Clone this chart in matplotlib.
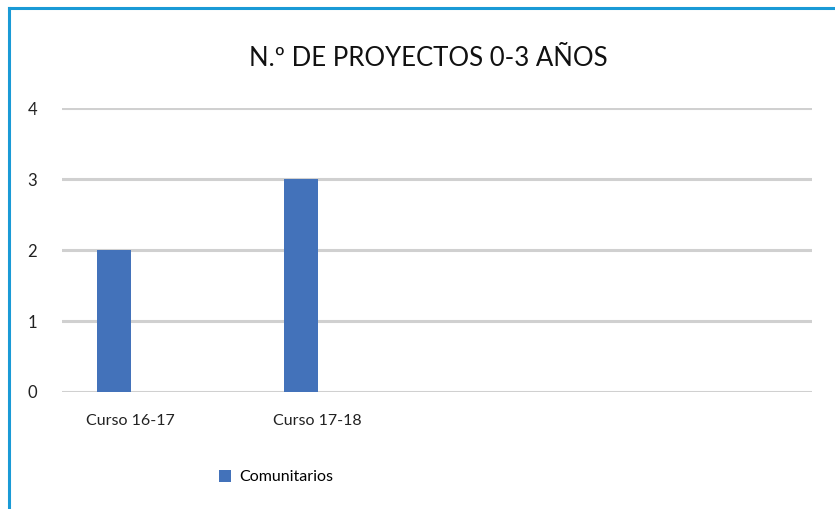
import matplotlib.pyplot as plt
import numpy as np
from matplotlib.lines import Line2D

# Data
categories = ['Curso 16-17', 'Curso 17-18']
comunitarios = [2, 3]
series_name = 'Comunitarios'
title = 'N.º DE PROYECTOS 0-3 AÑOS'
y_ticks = [0, 1, 2, 3, 4]

plt.rcParams['font.family'] = ['Lato', 'DejaVu Sans']

W, H = 835, 509
fig = plt.figure(figsize=(W / 100, H / 100), dpi=100)
ax = fig.add_axes([62 / W, 1 - 392 / H, 750 / W, (392 - 108) / H])

x = np.arange(len(categories))
bar_w = 34 / 187.5
ax.bar(x, comunitarios, width=bar_w, color='#4372BA', zorder=3, label=series_name)

ax.set_xlim(-0.277, 3.723)
ax.set_ylim(0, 4)
ax.set_yticks(y_ticks)
ax.set_xticks(x + 16 / 187.5)
ax.set_xticklabels(categories)
ax.tick_params(axis='both', length=0, labelsize=11.5, colors='#222222')
ax.tick_params(axis='y', pad=18, labelsize=12)
ax.tick_params(axis='x', pad=16)
ax.grid(axis='y', color='#d0d0d0', linewidth=2.2, zorder=0)
for s in ax.spines.values():
    s.set_visible(False)

fig.text(428 / W, 1 - 59 / H, title, ha='center', va='center', fontsize=18.5, color='#111111')

fig.legend(loc='center', bbox_to_anchor=(276 / W, 1 - 477 / H), frameon=False,
           fontsize=11.5, handlelength=0.8, handleheight=0.8, handletextpad=0.5)

# blue frame (top and left)
fig.add_artist(Line2D([9 / W, 1], [1 - 8 / H, 1 - 8 / H], color='#1a9ad6', linewidth=2.2,
                      transform=fig.transFigure))
fig.add_artist(Line2D([9 / W, 9 / W], [1 - 8 / H, 0], color='#1a9ad6', linewidth=2.2,
                      transform=fig.transFigure))

fig.savefig('out.png', dpi=100)
